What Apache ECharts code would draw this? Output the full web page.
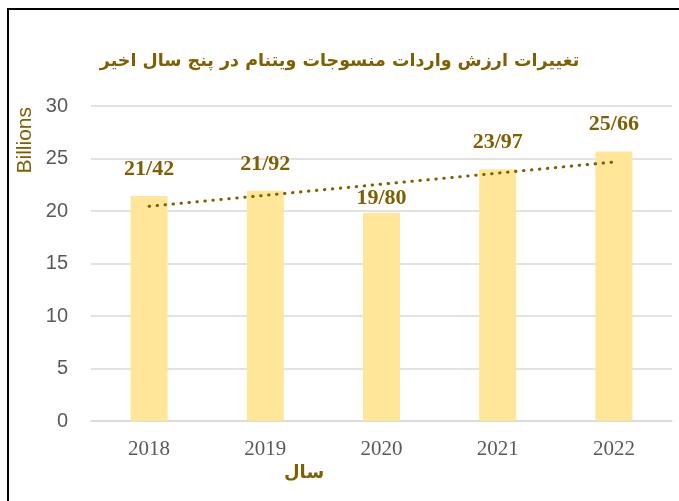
<!DOCTYPE html>
<html>
<head>
<meta charset="utf-8">
<script src="https://cdn.jsdelivr.net/npm/echarts@6/dist/echarts.min.js"></script>
<style>
    html, body { margin: 0; padding: 0; background: #fff; }
    #main { width: 679px; height: 501px; position: relative; }
    .frame {
        position: absolute; left: 7px; top: 8px; right: -2px; bottom: -2px;
        border-top: 2px solid #000; border-left: 2px solid #000;
        pointer-events: none;
    }
</style>
</head>
<body>
<div id="main"></div>
<div class="frame"></div>
<script>
    // سال ها و مقادیر (میلیارد)
    const years = ['2018', '2019', '2020', '2021', '2022'];
    const values = [21.42, 21.92, 19.80, 23.97, 25.66];
    const valueLabels = ['21/42', '21/92', '19/80', '23/97', '25/66'];
    // خط روند خطی
    const trendValues = [20.45, 21.50, 22.55, 23.61, 24.66];
    const yTicks = [0, 5, 10, 15, 20, 25, 30];

    const brown = '#7F6000';
    const chart = echarts.init(document.getElementById('main'));
    const option = {
        animation: false,
        title: {
            text: 'تغییرات ارزش واردات منسوجات ویتنام در پنج سال اخیر',
            left: 'center',
            top: 47,
            textStyle: {
                color: brown,
                fontFamily: 'DejaVu Sans',
                fontWeight: 'bold',
                fontSize: 17.5
            }
        },
        grid: {
            left: 91,
            right: 7,
            top: 106,
            bottom: 80
        },
        xAxis: {
            type: 'category',
            data: years,
            axisTick: { show: false },
            axisLine: { lineStyle: { color: '#D9D9D9', width: 1.5 } },
            axisLabel: {
                color: '#595959',
                fontFamily: 'Liberation Serif',
                fontSize: 21,
                margin: 18
            }
        },
        yAxis: {
            type: 'value',
            min: yTicks[0],
            max: yTicks[yTicks.length - 1],
            interval: 5,
            axisLine: { show: false },
            axisTick: { show: false },
            splitLine: { lineStyle: { color: '#D9D9D9', width: 1.5 } },
            axisLabel: {
                color: '#595959',
                fontFamily: 'Liberation Sans',
                fontSize: 20,
                margin: 23
            }
        },
        graphic: [
            {
                type: 'text',
                left: 15,
                top: 107,
                rotation: Math.PI / 2,
                style: {
                    text: 'Billions',
                    fill: brown,
                    font: '21px "Liberation Sans"'
                }
            },
            {
                type: 'text',
                left: 284,
                top: 464,
                style: {
                    text: 'سال',
                    fill: brown,
                    font: 'bold 18px "DejaVu Sans"'
                }
            }
        ],
        series: [
            {
                type: 'bar',
                data: values.map((v, i) => i === 2 ? { value: v, label: { distance: 4 } } : v),
                barWidth: 37,
                itemStyle: { color: '#FFE699' },
                label: {
                    show: true,
                    position: 'top',
                    distance: 16,
                    formatter: p => valueLabels[p.dataIndex],
                    color: brown,
                    fontFamily: 'Liberation Serif',
                    fontWeight: 'bold',
                    fontSize: 22
                }
            },
            {
                type: 'line',
                data: trendValues,
                symbol: 'none',
                silent: true,
                z: 5,
                lineStyle: {
                    color: brown,
                    width: 3,
                    type: [0.5, 7.5],
                    cap: 'round'
                }
            }
        ]
    };
    chart.setOption(option);
</script>
</body>
</html>
